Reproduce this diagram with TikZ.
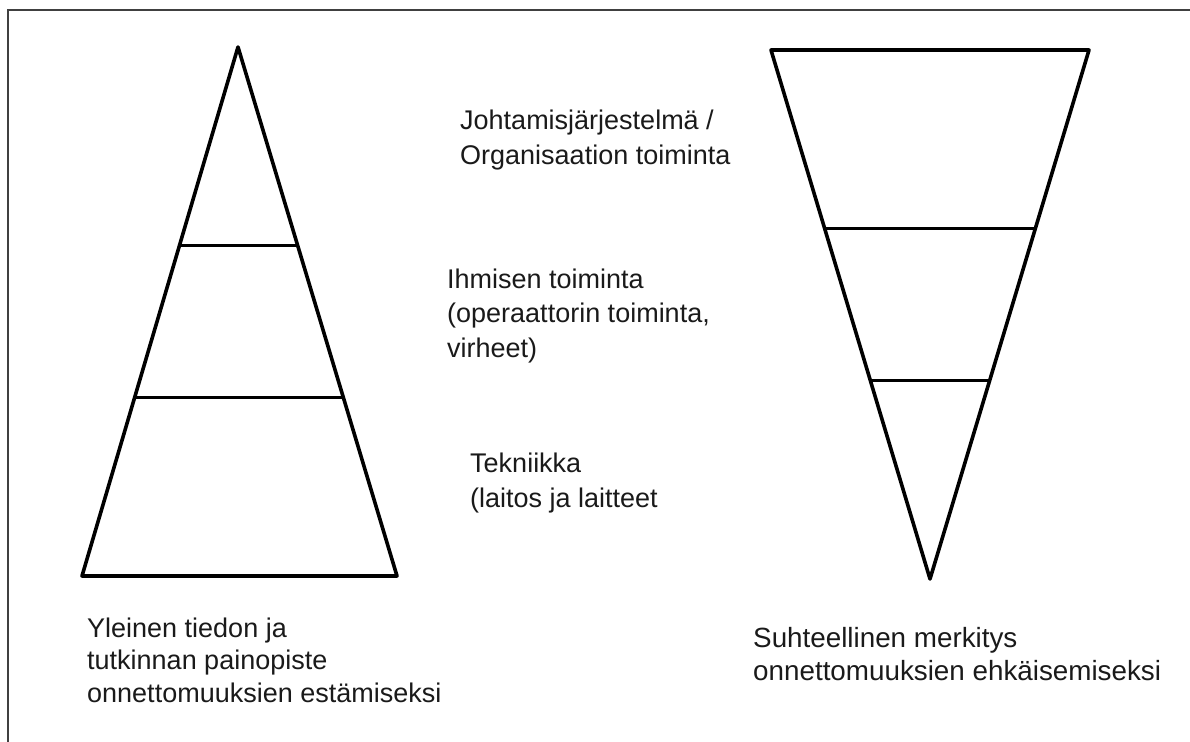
\documentclass[tikz,border=0pt]{standalone}
\usepackage{fontspec}
\setmainfont{Liberation Sans}
\usetikzlibrary{calc}
\definecolor{bordergray}{HTML}{404040}
\definecolor{txt}{HTML}{1A1A1A}
\tikzset{
  frameline/.style={draw=bordergray, line width=2.6pt},
  triline/.style={draw=black, line width=3.6pt, line join=round},
  midlbl/.style={inner sep=0pt, align=left, text=txt, font=\fontsize{27}{34.5}\selectfont},
  botlbl/.style={inner sep=0pt, align=left, text=txt, font=\fontsize{27}{32.5}\selectfont}
}
\begin{document}
\begin{tikzpicture}[x=1pt,y=-1pt]
\useasboundingbox (0,0) rectangle (1190,741);
\clip (0,0) rectangle (1190,741);
\fill[white] (0,0) rectangle (1190,741);
\draw[frameline] (8,10) rectangle (1215,770);

% left pyramid
\coordinate (LA) at (238,47);
\coordinate (LL) at (82,576);
\coordinate (LR) at (397,576);
\draw[triline] (LA) -- (LL) -- (LR) -- cycle;
\coordinate (L1a) at ($(LA)!0.3755!(LL)$);
\coordinate (L1b) at ($(LA)!0.3755!(LR)$);
\coordinate (L2a) at ($(LA)!0.6623!(LL)$);
\coordinate (L2b) at ($(LA)!0.6623!(LR)$);
\draw[triline] (L1a) -- (L1b);
\draw[triline] (L2a) -- (L2b);

% right inverted pyramid
\coordinate (RL) at (771,50);
\coordinate (RR) at (1089,50);
\coordinate (RB) at (930,579);
\draw[triline] (RL) -- (RR) -- (RB) -- cycle;
\coordinate (R1a) at ($(RL)!0.3377!(RB)$);
\coordinate (R1b) at ($(RR)!0.3377!(RB)$);
\coordinate (R2a) at ($(RL)!0.6245!(RB)$);
\coordinate (R2b) at ($(RR)!0.6245!(RB)$);
\draw[triline] (R1a) -- (R1b);
\draw[triline] (R2a) -- (R2b);

% labels (base anchor = baseline of last line)
\node[midlbl, anchor=base west] (org) at (460,164) {Johtamisjärjestelmä /\\Organisaation toiminta};
\node[midlbl, anchor=base west] (hum) at (447,357) {Ihmisen toiminta\\(operaattorin toiminta,\\virheet)};
\node[midlbl, anchor=base west] (tek) at (470,507) {Tekniikka\\(laitos ja laitteet};
\node[botlbl, anchor=base west] (lcap) at (87,702) {Yleinen tiedon ja\\tutkinnan painopiste\\onnettomuuksien estämiseksi};
\node[botlbl, anchor=base west, font=\fontsize{27.8}{32.5}\selectfont] (rcap) at (753,680) {Suhteellinen merkitys\\onnettomuuksien ehkäisemiseksi};
\end{tikzpicture}
\end{document}
